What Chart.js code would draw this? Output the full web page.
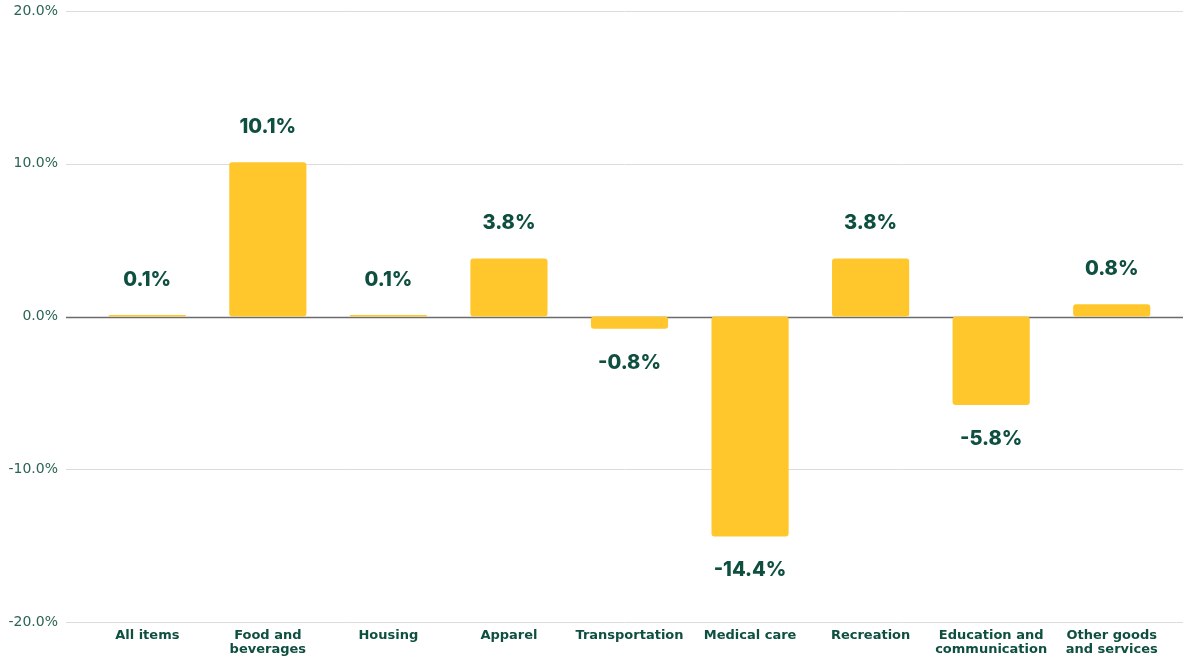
<!DOCTYPE html>
<html>
<head>
<meta charset="utf-8">
<script src="https://cdn.jsdelivr.net/npm/chart.js@4"></script>
<style>
  html, body { margin: 0; padding: 0; background: #fff; }
  #wrap { width: 1183px; height: 656px; position: relative; }
</style>
</head>
<body>
<div id="wrap"><canvas id="canvas"></canvas></div>
<script>
// Dữ liệu biểu đồ
const categories = [
    'All items', ['Food and', 'beverages'], 'Housing', 'Apparel', 'Transportation',
    'Medical care', 'Recreation', ['Education and', 'communication'], ['Other goods', 'and services']
];
const changes = [0.1, 10.1, 0.1, 3.8, -0.8, -14.4, 3.8, -5.8, 0.8];
const yTicks = [-20, -10, 0, 10, 20];

const green = '#0e4f40';
const yellow = '#ffc72c';

// Kẻ lưới ngang kéo dài toàn bộ chiều rộng
const gridPlugin = {
    id: 'wideGrid',
    beforeDatasetsDraw(chart) {
        const ctx = chart.ctx;
        const y = chart.scales.y;
        ctx.save();
        yTicks.forEach(v => {
            const py = Math.round(y.getPixelForValue(v)) + 0.5;
            ctx.beginPath();
            ctx.strokeStyle = v === 0 ? '#6b6b6b' : '#dcdcdc';
            ctx.lineWidth = v === 0 ? 1.5 : 1;
            ctx.moveTo(66, py);
            ctx.lineTo(chart.width, py);
            ctx.stroke();
        });
        ctx.restore();
    }
};

// Nhãn giá trị trên/dưới cột
const labelPlugin = {
    id: 'valueLabels',
    afterDatasetsDraw(chart) {
        const ctx = chart.ctx;
        const meta = chart.getDatasetMeta(0);
        ctx.save();
        ctx.font = '800 20px Inter';
        ctx.fillStyle = green;
        ctx.textAlign = 'center';
        ctx.textBaseline = 'middle';
        meta.data.forEach((bar, i) => {
            const v = changes[i];
            const py = v >= 0 ? bar.y - 35 : bar.y + 34;
            ctx.fillText(v.toFixed(1) + '%', bar.x, py);
        });
        ctx.restore();
    }
};

const config = {
    type: 'bar',
    data: {
        labels: categories,
        datasets: [{
            data: changes,
            backgroundColor: yellow,
            borderRadius: 3,
            borderSkipped: false,
            categoryPercentage: 1,
            barPercentage: 0.64
        }]
    },
    options: {
        responsive: true,
        maintainAspectRatio: false,
        animation: false,
        layout: { padding: { top: 11, right: 11, left: 0, bottom: 0 } },
        plugins: {
            legend: { display: false },
            tooltip: { enabled: false }
        },
        scales: {
            x: {
                grid: { display: false },
                border: { display: false },
                afterFit(scale) { scale.height = 34; },
                ticks: {
                    color: green,
                    font: { family: 'DejaVu Sans', weight: 'bold', size: 13, lineHeight: 1.1 },
                    maxRotation: 0,
                    autoSkip: false,
                    padding: -2
                }
            },
            y: {
                min: -20,
                max: 20,
                afterFit(scale) {
                    scale.width = 87;
                    scale.paddingTop = 0;
                    scale.paddingBottom = 0;
                },
                afterBuildTicks(scale) { scale.ticks = yTicks.map(v => ({ value: v })); },
                grid: { display: false },
                border: { display: false },
                ticks: {
                    color: '#2b6455',
                    font: { family: 'DejaVu Sans', size: 14 },
                    padding: 21,
                    callback: v => v.toFixed(1) + '%'
                }
            }
        }
    },
    plugins: [gridPlugin, labelPlugin]
};

new Chart('canvas', config);
</script>
</body>
</html>
